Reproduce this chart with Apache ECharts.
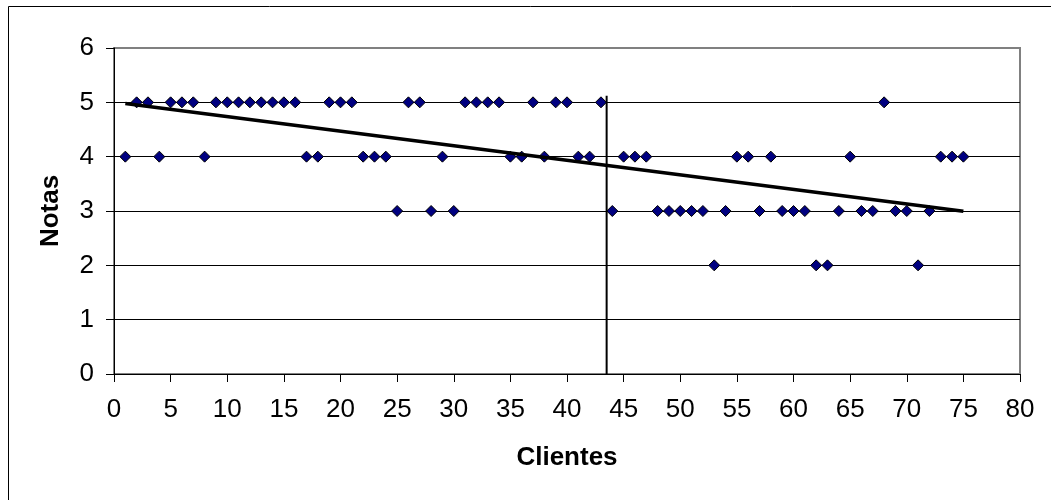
<!DOCTYPE html>
<html>
<head>
<meta charset="utf-8">
<script src="https://cdn.jsdelivr.net/npm/echarts@6/dist/echarts.min.js"></script>
<style>html,body{margin:0;padding:0;background:#fff}#c{width:1051px;height:500px}</style>
</head>
<body>
<div id="c"></div>
<script>
// Clientes (x) and Notas (y)
const clientes = [];
for (let i = 1; i <= 75; i++) clientes.push(i);
const notas = [4,5,5,4,5,5,5,4,5,5, 5,5,5,5,5,5,4,4,5,5,
               5,4,4,4,3,5,5,3,4,3, 5,5,5,5,4,4,5,4,5,5,
               4,4,5,3,4,4,4,3,3,3, 3,3,2,3,4,4,3,4,3,3,
               3,2,2,3,4,3,3,5,3,3, 2,3,4,4,4];
const xTicks = ['0','5','10','15','20','25','30','35','40','45','50','55','60','65','70','75','80'];
const yTicks = ['0','1','2','3','4','5','6'];
const divider = [[43.5, 0], [43.5, 5.12]];

// linear trend (least squares) from the data
const n = clientes.length;
let sx=0, sy=0, sxx=0, sxy=0;
for (let i=0;i<n;i++){ sx+=clientes[i]; sy+=notas[i]; sxx+=clientes[i]*clientes[i]; sxy+=clientes[i]*notas[i]; }
const slope = (n*sxy - sx*sy)/(n*sxx - sx*sx);
const icpt = (sy - slope*sx)/n;
const xFirst = clientes[0], xLast = clientes[n-1];
const trend = [[xFirst, icpt+slope*xFirst],[xLast, icpt+slope*xLast]];

const pts = clientes.map((c,i)=>[c, notas[i]]);
const font = '"Liberation Sans", Arial, sans-serif';

const chart = echarts.init(document.getElementById('c'), null, {renderer:'canvas'});
chart.setOption({
  animation: false,
  backgroundColor: '#fff',
  graphic: [{
    type: 'rect', z: 100, silent: true,
    shape: {x: 8.5, y: 6.5, width: 1100, height: 600},
    style: {fill: 'none', stroke: '#000', lineWidth: 1}
  }],
  grid: {left: 114, top: 48, width: 906, height: 326, show: true, borderColor: '#808080', borderWidth: 2, backgroundColor: 'transparent'},
  xAxis: {
    type: 'value', min: 0, max: 80, interval: 5,
    name: 'Clientes', nameLocation: 'middle', nameGap: 71,
    nameTextStyle: {fontFamily: font, fontSize: 26, fontWeight: 'bold', color: '#000'},
    axisLine: {show: true, onZero: false, lineStyle: {color: '#000', width: 1}},
    axisTick: {show: true, inside: false, length: 8, lineStyle: {color: '#000'}},
    axisLabel: {fontFamily: font, fontSize: 26, color: '#000', margin: 23,
      formatter: v => xTicks[Math.round(v/5)]},
    splitLine: {show: false}
  },
  yAxis: {
    type: 'value', min: 0, max: 6, interval: 1,
    name: 'Notas', nameLocation: 'middle', nameGap: 50,
    nameTextStyle: {fontFamily: font, fontSize: 26, fontWeight: 'bold', color: '#000'},
    axisLine: {show: true, onZero: false, lineStyle: {color: '#000', width: 1}},
    axisTick: {show: true, inside: false, length: 8, lineStyle: {color: '#000'}},
    axisLabel: {fontFamily: font, fontSize: 26, color: '#000', margin: 20,
      formatter: v => yTicks[Math.round(v)]},
    splitLine: {show: true, lineStyle: {color: ['#000','#000','#000','#000','#000','#000','#808080'], width: 1}}
  },
  series: [
    {
      type: 'scatter', data: pts, symbol: 'diamond', symbolSize: 11, z: 3,
      itemStyle: {color: '#000080', borderColor: '#000', borderWidth: 1, opacity: 1}
    },
    {
      type: 'line', data: trend, symbol: 'none', z: 4,
      lineStyle: {color: '#000', width: 3.5}
    },
    {
      type: 'line', data: divider, symbol: 'none', z: 5,
      lineStyle: {color: '#000', width: 2}
    }
  ]
});
</script>
</body>
</html>
